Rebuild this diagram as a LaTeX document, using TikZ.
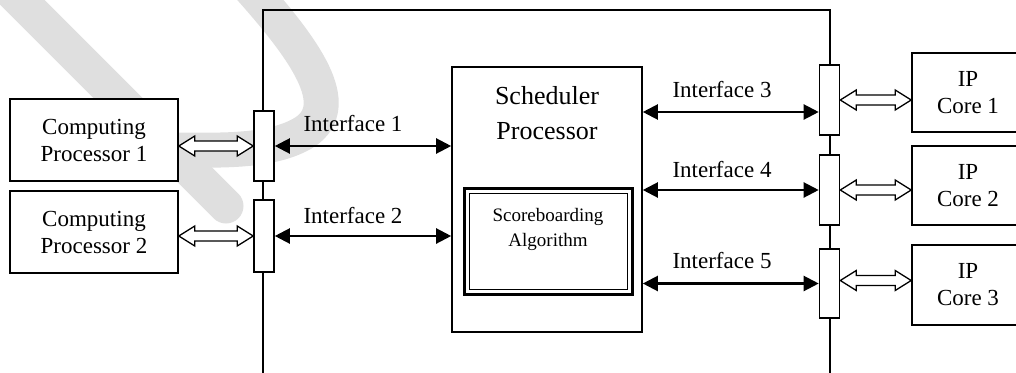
\documentclass[tikz,border=0pt]{standalone}
\usepackage{fontspec}
\setmainfont{Liberation Serif}
\usetikzlibrary{arrows.meta,calc}
\begin{document}
\begin{tikzpicture}[x=1pt,y=-1pt,
  wm/.style={line width=35pt,color=gray!25,line cap=round},
  frame/.style={line width=1.6pt},
  box/.style={draw,fill=white,line width=1.6pt,inner sep=0pt,align=center,
    font=\fontsize{23}{27}\selectfont},
  port/.style={draw,fill=white,line width=1.6pt,minimum width=20pt,minimum height=70pt,inner sep=0pt},
  lbl/.style={font=\fontsize{23}{27}\selectfont,anchor=base,inner sep=0pt},
  bus/.style={line width=2.2pt,{Triangle[length=15pt,width=15pt]}-{Triangle[length=15pt,width=15pt]}},
  hollowline/.style={draw,fill=white,line width=1.3pt,line join=miter},
  hollow/.style={
    to path={let \p1=(\tikztostart), \p2=(\tikztotarget) in
      (\x1,\y2) -- (\x1+16pt,\y2+10pt) -- (\x1+16pt,\y2+5pt) -- (\x2-16pt,\y2+5pt)
      -- (\x2-16pt,\y2+10pt) -- (\x2,\y2) -- (\x2-16pt,\y2-10pt) -- (\x2-16pt,\y2-5pt)
      -- (\x1+16pt,\y2-5pt) -- (\x1+16pt,\y2-10pt) -- cycle}}]
\useasboundingbox (0,0) rectangle (1016,372);
\clip (0,0) rectangle (1016,372);
% watermark
\draw[wm] (5,-15) -- (226,206);
\draw[wm] (250,-12) .. controls (305,50) and (345,105) .. (305,132)
  .. controls (272,153) and (215,150) .. (180,150);
% frame
\coordinate (fl) at (263,380);
\coordinate (ftl) at (263,10);
\coordinate (ftr) at (830,10);
\coordinate (fr) at (830,380);
\draw[frame] (fl) -- (ftl) -- (ftr) -- (fr);
% computing processors
\node[box,minimum width=168pt,minimum height=82pt] (cp1) at (94,140) {Computing\\Processor 1};
\node[box,minimum width=168pt,minimum height=82pt] (cp2) at (94,232) {Computing\\Processor 2};
% ports
\node[port,minimum height=70pt] (pa) at (264,146) {};
\node[port,minimum height=72pt] (pb) at (264,236) {};
\node[port,minimum height=70pt] (pc) at (829.5,100) {};
\node[port,minimum height=70pt] (pd) at (829.5,190) {};
\node[port,minimum height=69pt] (pe) at (829.5,283.5) {};
% scheduler
\node[draw,fill=white,line width=1.6pt,minimum width=190pt,minimum height=265pt,inner sep=0pt] (sch) at (547,199.5) {};
\node[align=center,inner sep=0pt,font=\fontsize{26}{35}\selectfont] (scht) at (547,113) {Scheduler\\Processor};
\node[draw,line width=2.2pt,minimum width=168pt,minimum height=106pt,inner sep=0pt] (sb) at (548.5,241.5) {};
\node[draw,line width=1.1pt,minimum width=158pt,minimum height=96pt,inner sep=0pt] (sbi) at (sb.center) {};
\node[align=center,inner sep=0pt,font=\fontsize{19}{25}\selectfont] (sbt) at (548,229) {Scoreboarding\\Algorithm};
% IP cores
\node[box,minimum width=112pt,minimum height=79pt] (ip1) at (968,92.5) {IP\\Core 1};
\node[box,minimum width=112pt,minimum height=79pt] (ip2) at (968,185.5) {IP\\Core 2};
\node[box,minimum width=112pt,minimum height=80pt] (ip3) at (968,285) {IP\\Core 3};
% hollow arrows
\coordinate (h5) at ([yshift=3pt]pe.east);
\draw[hollowline] (cp1.east |- pa.west) to[hollow] (pa.west);
\draw[hollowline] (cp2.east |- pb.west) to[hollow] (pb.west);
\draw[hollowline] (pc.east) to[hollow] (ip1.west |- pc.east);
\draw[hollowline] (pd.east) to[hollow] (ip2.west |- pd.east);
\draw[hollowline] (h5) to[hollow] (ip3.west |- h5);
% interfaces
\coordinate (i3) at ([yshift=-12pt]pc.west);
\draw[bus] (i3 -| sch.east) -- (i3);
\draw[bus] (pa.east) -- (pa.east -| sch.west);
\draw[bus] (pb.east) -- (pb.east -| sch.west);
\draw[bus] (pd.west -| sch.east) -- (pd.west);
\draw[bus] (pe.west -| sch.east) -- (pe.west);
\node[lbl] (l1) at (353,131) {Interface 1};
\node[lbl] (l2) at (353,223) {Interface 2};
\node[lbl] (l3) at (722,97) {Interface 3};
\node[lbl] (l4) at (722,177) {Interface 4};
\node[lbl] (l5) at (722,268) {Interface 5};
\end{tikzpicture}
\end{document}
